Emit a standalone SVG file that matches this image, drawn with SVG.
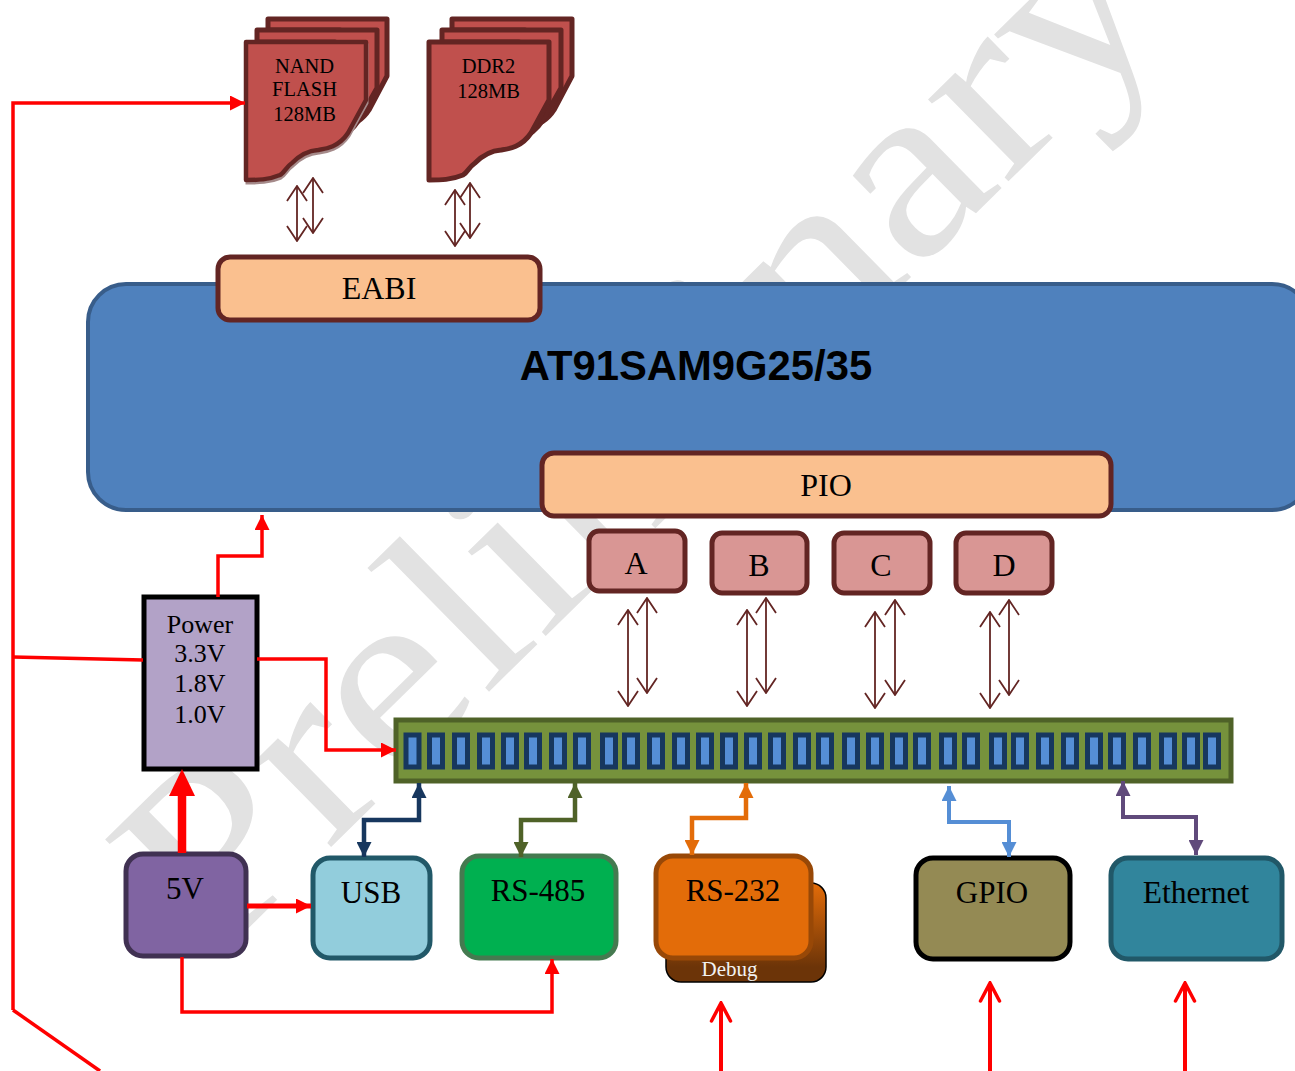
<svg xmlns="http://www.w3.org/2000/svg" width="1295" height="1071" viewBox="0 0 1295 1071">
<style>
text{font-family:"Liberation Serif","Times New Roman",serif;fill:#000;text-anchor:middle}
.box{stroke-width:5}
.peach{fill:#fac08f;stroke:#632523}
.port{fill:#d99694;stroke:#632523}
.doc{fill:#c0504d;stroke:#632523;stroke-width:5;stroke-linejoin:round}
.pin{fill:#558ed5;stroke:#17375e;stroke-width:5}
.bi{fill:none;stroke:#632523;stroke-width:1.8;marker-start:url(#open);marker-end:url(#open)}
.red{fill:none;stroke:#f00;stroke-width:3.500}
.up{fill:none;stroke:#f00;stroke-width:4;marker-end:url(#redOpen)}
.t31{font-size:31.500px}.t30{font-size:31px}.t32{font-size:32px}
.doc20{font-size:20.500px}.pw{font-size:26px}
</style>
<defs>
<marker id="open" viewBox="-17 -12 18 24" refX="0" refY="0" markerWidth="18" markerHeight="24" markerUnits="userSpaceOnUse" orient="auto-start-reverse"><path d="M-15,-10L0,0L-15,10" fill="none" stroke="#632523" stroke-width="1.800"/></marker>
<marker id="redTip" viewBox="0 0 15 15" refX="15" refY="7.500" markerWidth="15" markerHeight="15" markerUnits="userSpaceOnUse" orient="auto"><path d="M0,0L15,7.500L0,15z" fill="#f00"/></marker>
<marker id="redOpen" viewBox="-22 -13 24 26" refX="0" refY="0" markerWidth="24" markerHeight="26" markerUnits="userSpaceOnUse" orient="auto"><path d="M-18,-9.500L0,0L-18,9.500" fill="none" stroke="#f00" stroke-width="3.500" stroke-linecap="round"/></marker>
<marker id="navy" viewBox="0 0 15 15" refX="15" refY="7.500" markerWidth="15" markerHeight="15" markerUnits="userSpaceOnUse" orient="auto-start-reverse"><path d="M0,0L15,7.500L0,15z" fill="#17375e"/></marker>
<marker id="olive" viewBox="0 0 15 15" refX="15" refY="7.500" markerWidth="15" markerHeight="15" markerUnits="userSpaceOnUse" orient="auto-start-reverse"><path d="M0,0L15,7.500L0,15z" fill="#4f6228"/></marker>
<marker id="orange" viewBox="0 0 15 15" refX="15" refY="7.500" markerWidth="15" markerHeight="15" markerUnits="userSpaceOnUse" orient="auto-start-reverse"><path d="M0,0L15,7.500L0,15z" fill="#e36c09"/></marker>
<marker id="sky" viewBox="0 0 15 15" refX="15" refY="7.500" markerWidth="15" markerHeight="15" markerUnits="userSpaceOnUse" orient="auto-start-reverse"><path d="M0,0L15,7.500L0,15z" fill="#558ed5"/></marker>
<marker id="purple" viewBox="0 0 15 15" refX="15" refY="7.500" markerWidth="15" markerHeight="15" markerUnits="userSpaceOnUse" orient="auto-start-reverse"><path d="M0,0L15,7.500L0,15z" fill="#604a7b"/></marker>
<linearGradient id="debugFill" x1="0" y1="0" x2="0" y2="1"><stop offset="0" stop-color="#e36c09"/><stop offset="0.85" stop-color="#6c3408"/></linearGradient>
<path id="docShape" d="M0,0H120V58L102,91C92,106 78,107 72,108C58,109 50,117 46,121C40,125 38,131 34,133C22,138 12,138 0,138Z"/>
</defs>

<text id="watermark" transform="translate(214 962) rotate(-44.500) scale(1.140 1)" style="font-size:250px;text-anchor:start;fill:#e2e2e2">Preliminary</text>

<g id="nand-flash">
<path class="doc" d="M268,19H387V76L369,110C362,121 354,124 340,130V30H268Z"/>
<path class="doc" d="M257,30H377V88L359,120C352,131 346,134 335,140V42H257Z"/>
<use href="#docShape" x="247" y="45" fill="none" stroke="#a58a8a" stroke-width="3"/>
<use href="#docShape" class="doc" x="246" y="42" style="stroke-width:4.500"/>
<text class="doc20" x="304.500" y="73">NAND</text>
<text class="doc20" x="304.500" y="96">FLASH</text>
<text class="doc20" x="304.500" y="121">128MB</text>
</g>
<g id="ddr2">
<path class="doc" d="M452,19H572V76L554,110C547,121 539,124 525,130V30H452Z"/>
<path class="doc" d="M442,30H561V88L543,120C536,131 530,134 519,140V42H442Z"/>
<use href="#docShape" class="doc" x="429" y="42"/>
<text class="doc20" x="488.500" y="73">DDR2</text>
<text class="doc20" x="488.500" y="98">128MB</text>
</g>

<g id="cpu">
<rect x="88" y="284" width="1222" height="226" rx="38" fill="#4f81bd" stroke="#385d8a" stroke-width="4"/>
<text x="696" y="380" style="font-family:'Liberation Sans',Arial,sans-serif;font-weight:bold;font-size:41.800px">AT91SAM9G25/35</text>
</g>
<g id="eabi"><rect class="box peach" x="218" y="257" width="322" height="63" rx="12"/><text class="t32" x="379" y="299">EABI</text></g>
<g id="pio"><rect class="box peach" x="542" y="453" width="569" height="63" rx="12"/><text class="t32" x="826" y="496">PIO</text></g>
<g id="port-a"><rect class="box port" x="589" y="531" width="96" height="60" rx="10"/><text class="t32" x="636" y="574">A</text></g>
<g id="port-b"><rect class="box port" x="712" y="533" width="95" height="60" rx="10"/><text class="t32" x="759" y="576">B</text></g>
<g id="port-c"><rect class="box port" x="834" y="533" width="96" height="60" rx="10"/><text class="t32" x="881" y="576">C</text></g>
<g id="port-d"><rect class="box port" x="956" y="533" width="96" height="60" rx="10"/><text class="t32" x="1004" y="576">D</text></g>

<g id="bus">
<rect x="396" y="720" width="835" height="61" fill="#76923c" stroke="#4f6228" stroke-width="5"/>
<rect class="pin" x="406" y="735" width="13" height="32"/><rect class="pin" x="429.500" y="735" width="13" height="32"/><rect class="pin" x="454.500" y="735" width="13" height="32"/><rect class="pin" x="479.500" y="735" width="13" height="32"/><rect class="pin" x="503.500" y="735" width="13" height="32"/><rect class="pin" x="526.500" y="735" width="13" height="32"/><rect class="pin" x="551.500" y="735" width="13" height="32"/><rect class="pin" x="575.500" y="735" width="13" height="32"/><rect class="pin" x="602.500" y="735" width="13" height="32"/><rect class="pin" x="624.500" y="735" width="13" height="32"/><rect class="pin" x="649.500" y="735" width="13" height="32"/><rect class="pin" x="674.500" y="735" width="13" height="32"/><rect class="pin" x="698.500" y="735" width="13" height="32"/><rect class="pin" x="722.500" y="735" width="13" height="32"/><rect class="pin" x="746.500" y="735" width="13" height="32"/><rect class="pin" x="770.500" y="735" width="13" height="32"/><rect class="pin" x="795.500" y="735" width="13" height="32"/><rect class="pin" x="818.500" y="735" width="13" height="32"/><rect class="pin" x="844.500" y="735" width="13" height="32"/><rect class="pin" x="868.500" y="735" width="13" height="32"/><rect class="pin" x="892.500" y="735" width="13" height="32"/><rect class="pin" x="915.500" y="735" width="13" height="32"/><rect class="pin" x="941.500" y="735" width="13" height="32"/><rect class="pin" x="964.500" y="735" width="13" height="32"/><rect class="pin" x="991.500" y="735" width="13" height="32"/><rect class="pin" x="1013.500" y="735" width="13" height="32"/><rect class="pin" x="1038.500" y="735" width="13" height="32"/><rect class="pin" x="1063.500" y="735" width="13" height="32"/><rect class="pin" x="1087.500" y="735" width="13" height="32"/><rect class="pin" x="1110.500" y="735" width="13" height="32"/><rect class="pin" x="1135.500" y="735" width="13" height="32"/><rect class="pin" x="1161.500" y="735" width="13" height="32"/><rect class="pin" x="1184.500" y="735" width="13" height="32"/><rect class="pin" x="1205.500" y="735" width="13" height="32"/>
</g>

<g id="power"><rect x="144" y="597" width="113" height="172" fill="#b2a2c7" stroke="#000" stroke-width="5"/>
<text class="pw" x="200" y="633">Power</text><text class="pw" x="200" y="662">3.3V</text><text class="pw" x="200" y="692">1.8V</text><text class="pw" x="200" y="723">1.0V</text></g>
<g id="v5"><rect class="box" x="126" y="854" width="120" height="102" rx="17" fill="#8064a2" stroke="#403152"/><text class="t30" x="185" y="899">5V</text></g>
<g id="usb"><rect class="box" x="313" y="858" width="117" height="100" rx="17" fill="#92cddc" stroke="#215868"/><text class="t30" x="371" y="903">USB</text></g>
<g id="rs485"><rect class="box" x="462" y="856" width="154" height="102" rx="17" fill="#00b050" stroke="#457a50"/><text class="t30" x="538" y="901">RS-485</text></g>
<g id="debug"><rect x="666" y="883" width="160" height="99" rx="15" fill="url(#debugFill)" stroke="#000" stroke-width="1.500"/><text x="729.500" y="976" style="font-size:21px;fill:#f2f2f2">Debug</text></g>
<g id="rs232"><rect class="box" x="656" y="856" width="155" height="102" rx="17" fill="#e36c09" stroke="#984807"/><text class="t30" x="733" y="901">RS-232</text></g>
<g id="gpio"><rect class="box" x="916" y="858" width="154" height="101" rx="17" fill="#948a54" stroke="#000"/><text class="t30" x="992" y="903">GPIO</text></g>
<g id="ethernet"><rect class="box" x="1111" y="858" width="171" height="101" rx="17" fill="#31859c" stroke="#215868"/><text class="t31" x="1196" y="903">Ethernet</text></g>

<g id="connectors">
<path class="bi" d="M297,186V241"/><path class="bi" d="M313,178V233"/>
<path class="bi" d="M455,190V246"/><path class="bi" d="M470,183V238"/>
<path class="bi" d="M628,610V706"/><path class="bi" d="M647,598V693"/>
<path class="bi" d="M747,610V706"/><path class="bi" d="M766,598V693"/>
<path class="bi" d="M875,612V708"/><path class="bi" d="M895,600V695"/>
<path class="bi" d="M990,612V708"/><path class="bi" d="M1009,600V695"/>
<path d="M13,1010V103H245" class="red" marker-end="url(#redTip)"/>
<path d="M13,1010L100,1071" class="red"/>
<path d="M13,657L143,660" class="red"/>
<path d="M218,597V556H262V515" class="red" marker-end="url(#redTip)"/>
<path d="M257,659H326V750H396" class="red" marker-end="url(#redTip)"/>
<path d="M182,853V790" fill="none" stroke="#f00" stroke-width="8.500"/><path d="M182,769L195,796H169Z" fill="#f00"/>
<path d="M247,906H311" class="red" style="stroke-width:5" marker-end="url(#redTip)"/>
<path d="M182,957V1012H552V959" class="red" marker-end="url(#redTip)"/>
<path d="M721,1071V1003" class="up"/>
<path d="M990,1071V983" class="up"/>
<path d="M1185,1071V983" class="up"/>
<path d="M364,857V820H419V783" fill="none" stroke="#17375e" stroke-width="4.500" marker-start="url(#navy)" marker-end="url(#navy)"/>
<path d="M521,857V820H575V783" fill="none" stroke="#4f6228" stroke-width="4.500" marker-start="url(#olive)" marker-end="url(#olive)"/>
<path d="M692,855V818H746V783" fill="none" stroke="#e36c09" stroke-width="4.500" marker-start="url(#orange)" marker-end="url(#orange)"/>
<path d="M1009,857V822H949V786" fill="none" stroke="#558ed5" stroke-width="4" marker-start="url(#sky)" marker-end="url(#sky)"/>
<path d="M1196,855V817H1123V781" fill="none" stroke="#604a7b" stroke-width="4" marker-start="url(#purple)" marker-end="url(#purple)"/>
</g>
</svg>
